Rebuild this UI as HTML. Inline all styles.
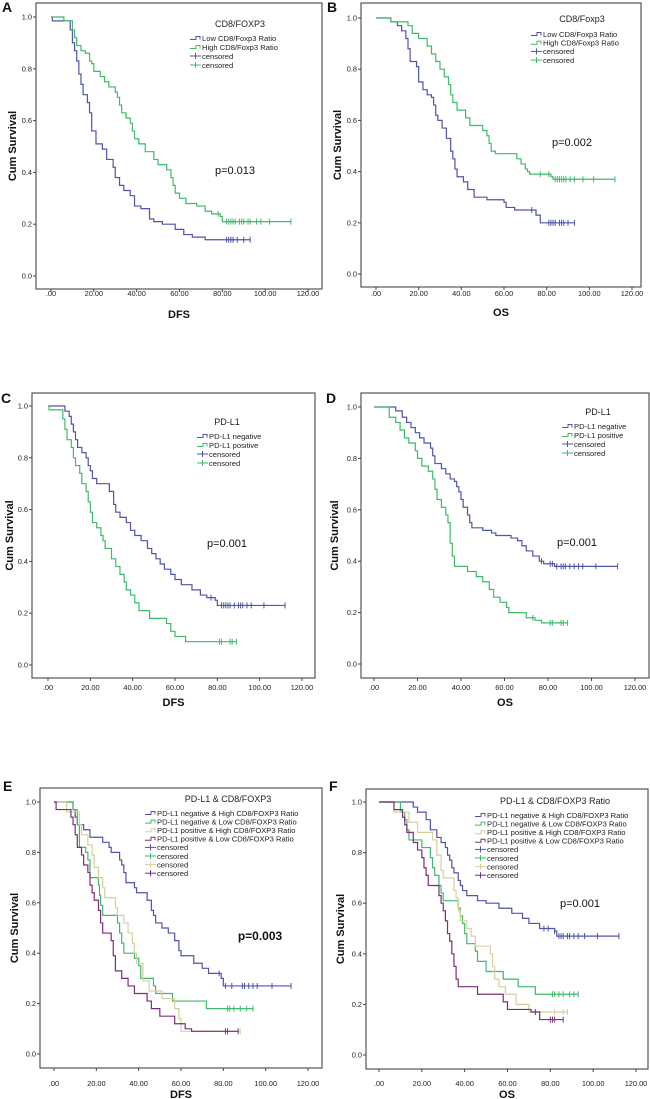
<!DOCTYPE html>
<html><head><meta charset="utf-8"><style>
html,body{margin:0;padding:0;background:#fff;}
svg{display:block;font-family:"Liberation Sans",sans-serif;}
</style></head><body>
<svg id="fig" width="650" height="1099" viewBox="0 0 650 1099" xmlns="http://www.w3.org/2000/svg"></svg>
<script>
const BLUE="#4f54a8",GREEN="#3fba6a",BEIGE="#d6cf9c",PURPLE="#7b2e78";
const xTicks=[0,20,40,60,80,100,120];
const xTickLabels=[".00","20.00","40.00","60.00","80.00","100.00","120.00"];
const yTicks=[0,0.2,0.4,0.6,0.8,1.0];
const yTickLabels=["0.0","0.2","0.4","0.6","0.8","1.0"];

// Panel A
const aLowT=[0.6,9,10,11,12,13,14,15,17,18,19,21,24,26,29,30,32,34,37,39,42,46,48,52,58,62,66,72];
const aLowS=[0.985,0.95,0.90,0.87,0.83,0.78,0.74,0.70,0.67,0.63,0.56,0.51,0.49,0.45,0.42,0.38,0.35,0.33,0.31,0.27,0.26,0.22,0.21,0.20,0.18,0.16,0.15,0.14];
const aLowC=[82,83,84,85,87,90,93];
const aHighT=[6,10,11,12,14,16,18,19,20,23,25,27,30,31,32,33,35,37,38,39,41,44,48,50,54,56,57,58,60,63,68,72,75,79,80];
const aHighS=[0.985,0.95,0.92,0.89,0.87,0.86,0.83,0.82,0.79,0.77,0.75,0.73,0.71,0.69,0.66,0.63,0.61,0.59,0.56,0.53,0.51,0.48,0.45,0.43,0.41,0.38,0.35,0.32,0.30,0.28,0.27,0.25,0.24,0.23,0.21];
const aHighC=[78,82,83,84,85,86,88,89,90,92,93,96,98,102,112];
// Panel B
const bLowT=[7,10,12,14,15,16,19,20,22,24,26,27,28,29,31,33,35,36,37,38,41,43,46,52,60,61,65,75,77];
const bLowS=[0.985,0.97,0.95,0.92,0.88,0.83,0.81,0.75,0.72,0.70,0.69,0.66,0.62,0.60,0.57,0.53,0.48,0.45,0.41,0.38,0.36,0.33,0.30,0.29,0.28,0.26,0.25,0.23,0.20];
const bLowC=[73,81,82,83,84,86,87,88,90,93];
const bHighT=[7,15,17,20,24,26,28,30,32,34,35,36,38,42,44,50,52,53,54,56,66,68,70,71,72,82,83];
const bHighS=[0.985,0.97,0.94,0.92,0.89,0.86,0.83,0.80,0.77,0.74,0.70,0.67,0.64,0.61,0.58,0.56,0.54,0.51,0.48,0.47,0.45,0.43,0.41,0.40,0.39,0.38,0.37];
const bHighC=[77,81,84,85,86,87,88,89,91,93,97,102,112];
// Panel C
const cNegT=[8,10,11,12,13,14,16,18,19,20,21,23,29,31,32,34,37,39,41,44,47,49,51,53,55,58,60,63,68,72,75,79,80];
const cNegS=[0.98,0.96,0.93,0.90,0.87,0.84,0.82,0.80,0.77,0.75,0.72,0.70,0.67,0.62,0.59,0.57,0.55,0.52,0.50,0.48,0.45,0.43,0.41,0.39,0.37,0.35,0.33,0.31,0.29,0.27,0.26,0.25,0.23];
const cNegC=[77,82,83,84,85,86,88,90,91,92,94,96,102,112];
const cPosT=[0.5,7,8,9,11,12,13,15,16,18,19,20,21,23,25,26,27,30,32,34,36,37,39,41,43,48,56,58,60,65];
const cPosS=[0.985,0.95,0.91,0.87,0.84,0.80,0.77,0.74,0.70,0.67,0.63,0.59,0.55,0.53,0.50,0.48,0.45,0.41,0.38,0.35,0.32,0.29,0.27,0.24,0.21,0.18,0.16,0.13,0.11,0.09];
const cPosC=[81,82,86,87,89];
// Panel D
const dNegT=[10,13,15,17,19,21,23,26,27,28,31,33,35,37,38,39,40,41,43,44,45,50,54,56,63,66,68,70,73,76,78,83];
const dNegS=[0.985,0.96,0.94,0.92,0.90,0.88,0.86,0.84,0.81,0.78,0.76,0.74,0.72,0.71,0.69,0.67,0.64,0.61,0.58,0.55,0.53,0.52,0.51,0.50,0.49,0.48,0.46,0.44,0.42,0.40,0.39,0.38];
const dNegC=[77,81,82,84,86,87,88,90,92,94,96,102,112];
const dPosT=[7,10,12,14,16,19,20,22,25,27,28,29,31,33,34,35,36,37,43,47,50,53,55,58,61,62,70,74,77];
const dPosS=[0.96,0.94,0.91,0.88,0.86,0.83,0.80,0.77,0.75,0.72,0.68,0.64,0.61,0.58,0.55,0.47,0.42,0.38,0.36,0.34,0.32,0.29,0.26,0.24,0.22,0.20,0.18,0.17,0.16];
const dPosC=[73,81,82,86,87,89];
// Panel E
const eNHT=[9,10,11,14,17,23,26,27,31,32,33,34,38,39,44,46,47,48,51,54,57,59,60,66,70,73,79,80];
const eNHS=[0.97,0.94,0.91,0.89,0.86,0.84,0.82,0.80,0.77,0.75,0.72,0.68,0.66,0.64,0.61,0.57,0.55,0.52,0.50,0.48,0.45,0.41,0.39,0.36,0.34,0.32,0.30,0.27];
const eNHC=[78,81,84,89,90,92,94,96,103,112];
const eNLT=[9,11,12,15,16,17,21,21.5,22,23,30,31,32,33,38,40,41,47,48,56,72];
const eNLS=[0.97,0.91,0.82,0.80,0.77,0.70,0.67,0.63,0.59,0.55,0.52,0.48,0.44,0.40,0.38,0.35,0.30,0.27,0.24,0.21,0.18];
const eNLC=[82,83,85,88,91,94];
const ePHT=[6,12,13,16,18,19,21,23,24,29,30,33,35,37,38,39,42,45,51,57,59,60];
const ePHS=[0.96,0.91,0.87,0.83,0.79,0.74,0.70,0.66,0.62,0.58,0.55,0.52,0.48,0.44,0.40,0.36,0.29,0.25,0.22,0.18,0.14,0.09];
const ePHC=[88];
const ePLT=[1,8,9,10,11,13,14,16,17,18,19,21,22,23,27,28,29,32,35,38,44,46,50,57,62,65];
const ePLS=[0.97,0.94,0.91,0.87,0.82,0.79,0.75,0.72,0.67,0.64,0.61,0.57,0.52,0.48,0.45,0.39,0.33,0.30,0.27,0.24,0.21,0.18,0.15,0.12,0.10,0.09];
const ePLC=[81,82,87];
// Panel F
const fNHT=[16,18,22,24,27,29,31,32,33,34,35,37,38,39,41,46,50,56,62,67,70,75,82,83];
const fNHS=[0.98,0.96,0.93,0.89,0.86,0.84,0.82,0.79,0.77,0.74,0.72,0.69,0.67,0.65,0.63,0.61,0.60,0.58,0.56,0.54,0.52,0.50,0.49,0.47];
const fNHC=[77,79,82,84,85,86,88,89,91,93,96,102,112];
const fNLT=[10,12,13,14,20,24,25,26,28,29,30,37,38,39,40,41,45,46,50,58,65,73];
const fNLS=[0.96,0.93,0.89,0.85,0.82,0.78,0.74,0.71,0.67,0.64,0.61,0.58,0.55,0.52,0.48,0.44,0.41,0.37,0.33,0.30,0.27,0.24];
const fNLC=[81,82,84,86,89,91,93];
const fPHT=[7,14,18,25,27,29,30,35,36,37,38,41,43,45,52,53,54,56,59,64,70];
const fPHS=[0.96,0.92,0.88,0.85,0.79,0.73,0.70,0.65,0.62,0.57,0.53,0.50,0.47,0.43,0.40,0.35,0.30,0.27,0.24,0.20,0.17];
const fPHC=[82,86,88];
const fPLT=[7,11,12,13,16,18,20,21,22,23,28,29,30,31,32,33,34,35,36,37,46,58,60,71,75];
const fPLS=[0.97,0.94,0.91,0.88,0.84,0.81,0.78,0.74,0.71,0.67,0.63,0.60,0.57,0.53,0.48,0.45,0.40,0.35,0.30,0.27,0.24,0.21,0.18,0.17,0.14];
const fPLC=[73,80,81,82,86];

const NS="http://www.w3.org/2000/svg";
const svg=document.getElementById('fig');
function el(tag,attrs,parent,text){const e=document.createElementNS(NS,tag);for(const k in attrs)e.setAttribute(k,attrs[k]);if(text!==undefined)e.textContent=text;(parent||svg).appendChild(e);return e;}

const panels=[
 {id:"a",letter:"A",lx:2,ly:12,frame:[36,3,322,289],x0:51,x120:308,y0:276,y1:17,tickY:296,xt:"DFS",xtY:318,ytX:12,
  title:"CD8/FOXP3",tx:240,ty:27,legX:190,legY:38,legStep:9,p:"p=0.013",px:235,py:174,pb:false,
  series:[{n:"Low CD8/Foxp3 Ratio",c:BLUE,t:aLowT,s:aLowS,cz:aLowC},{n:"High CD8/Foxp3 Ratio",c:GREEN,t:aHighT,s:aHighS,cz:aHighC}]},
 {id:"b",letter:"B",lx:327,ly:12,frame:[361,3,641,287],x0:376,x120:632,y0:274,y1:18,tickY:296,xt:"OS",xtY:316,ytX:337,
  title:"CD8/Foxp3",tx:582,ty:22,legX:531,legY:34,legStep:8.7,p:"p=0.002",px:572,py:146,pb:false,
  series:[{n:"Low CD8/Foxp3 Ratio",c:BLUE,t:bLowT,s:bLowS,cz:bLowC},{n:"High CD8/Foxp3 Ratio",c:GREEN,t:bHighT,s:bHighS,cz:bHighC}]},
 {id:"c",letter:"C",lx:1,ly:403,frame:[32,393,315,678],x0:48,x120:302,y0:665,y1:406,tickY:690,xt:"DFS",xtY:706,ytX:9,
  title:"PD-L1",tx:227,ty:425,legX:197,legY:436,legStep:9,p:"p=0.001",px:227,py:547,pb:false,
  series:[{n:"PD-L1 negative",c:BLUE,t:cNegT,s:cNegS,cz:cNegC},{n:"PD-L1 positive",c:GREEN,t:cPosT,s:cPosS,cz:cPosC}]},
 {id:"d",letter:"D",lx:326,ly:403,frame:[361,393,649,678],x0:374,x120:635,y0:664,y1:407,tickY:690,xt:"OS",xtY:706,ytX:334,
  title:"PD-L1",tx:598,ty:415,legX:562,legY:426,legStep:9,p:"p=0.001",px:577,py:546,pb:false,
  series:[{n:"PD-L1 negative",c:BLUE,t:dNegT,s:dNegS,cz:dNegC},{n:"PD-L1 positive",c:GREEN,t:dPosT,s:dPosS,cz:dPosC}]},
 {id:"e",letter:"E",lx:3,ly:791,frame:[40,788,322,1068],x0:54,x120:308,y0:1054,y1:802,tickY:1086,xt:"DFS",xtY:1098,ytX:14,
  title:"PD-L1 & CD8/FOXP3",tx:228,ty:802,legX:145,legY:813,legStep:8.6,p:"p=0.003",px:260,py:940,pb:true,
  series:[{n:"PD-L1 negative & High CD8/FOXP3 Ratio",c:BLUE,t:eNHT,s:eNHS,cz:eNHC},{n:"PD-L1 negative & Low CD8/FOXP3 Ratio",c:GREEN,t:eNLT,s:eNLS,cz:eNLC},{n:"PD-L1 positive & High CD8/FOXP3 Ratio",c:BEIGE,t:ePHT,s:ePHS,cz:ePHC},{n:"PD-L1 positive & Low CD8/FOXP3 Ratio",c:PURPLE,t:ePLT,s:ePLS,cz:ePLC}]},
 {id:"f",letter:"F",lx:329,ly:791,frame:[366,789,648,1069],x0:379,x120:636,y0:1055,y1:802,tickY:1086,xt:"OS",xtY:1098,ytX:340,
  title:"PD-L1 & CD8/FOXP3 Ratio",tx:555,ty:804,legX:475,legY:815,legStep:8.6,p:"p=0.001",px:580,py:907,pb:false,
  series:[{n:"PD-L1 negative & High CD8/FOXP3 Ratio",c:BLUE,t:fNHT,s:fNHS,cz:fNHC},{n:"PD-L1 negative & Low CD8/FOXP3 Ratio",c:GREEN,t:fNLT,s:fNLS,cz:fNLC},{n:"PD-L1 positive & High CD8/FOXP3 Ratio",c:BEIGE,t:fPHT,s:fPHS,cz:fPHC},{n:"PD-L1 positive & Low CD8/FOXP3 Ratio",c:PURPLE,t:fPLT,s:fPLS,cz:fPLC}]}
];

function survAt(t,s,x){let v=1;for(let i=0;i<t.length;i++){if(t[i]<=x)v=s[i];}return v;}

panels.forEach(P=>{
  const g=el('g',{});
  
  
  const X=v=>P.x0+(P.x120-P.x0)*v/120;
  const Y=v=>P.y0-(P.y0-P.y1)*v;
  const [fl,ft,fr,fb]=P.frame;
  const lt=el('text',{x:P.lx,y:P.ly,'font-size':14,'font-weight':'bold',fill:'#111'},g,P.letter);
  
  
  const fr_=el('rect',{x:fl,y:ft,width:fr-fl,height:fb-ft,fill:'none',stroke:'#555','stroke-width':1.2},g);
  
  
  yTicks.forEach((v,i)=>{
    el('line',{x1:fl-3,x2:fl,y1:Y(v),y2:Y(v),stroke:'#444','stroke-width':1},g);
    const t=el('text',{x:fl-4,y:Y(v)+2.5,'font-size':7.4,'text-anchor':'end',fill:'#222'},g,yTickLabels[i]);
    
    
  });
  xTicks.forEach((v,i)=>{
    el('line',{x1:X(v),x2:X(v),y1:fb,y2:fb+3,stroke:'#444','stroke-width':1},g);
    const t=el('text',{x:X(v),y:P.tickY,'font-size':7.4,'text-anchor':'middle',fill:'#222'},g,xTickLabels[i]);
    
    
  });
  const xt=el('text',{x:(fl+fr)/2,y:P.xtY,'font-size':11,'font-weight':'bold','text-anchor':'middle',fill:'#111'},g,P.xt);
  
  
  const yc=(ft+fb)/2;
  const yt=el('text',{x:P.ytX,y:yc,'font-size':11,'font-weight':'bold','text-anchor':'middle',fill:'#111',transform:`rotate(-90 ${P.ytX} ${yc})`,dy:4},g,'Cum Survival');
  
  
  P.series.forEach((S,si)=>{
    let d=`M${X(0)},${Y(1)}`;
    S.t.forEach((tt,i)=>{d+=` H${X(tt)} V${Y(S.s[i])}`;});
    const last=Math.max(S.t[S.t.length-1],...S.cz);
    d+=` H${X(last)}`;
    const p=el('path',{d:d,fill:'none',stroke:S.c,'stroke-width':1.2},g);
    
    
    S.cz.forEach(ct=>{
      const v=survAt(S.t,S.s,ct);
      const m=el('line',{x1:X(ct),x2:X(ct),y1:Y(v)-3,y2:Y(v)+3,stroke:S.c,'stroke-width':1},g);
      
      
    });
  });
  const tt=el('text',{x:P.tx,y:P.ty,'font-size':9,'text-anchor':'middle',fill:'#222'},g,P.title);
  
  
  const items=P.series.map(s=>({n:s.n,c:s.c,k:'line'})).concat(P.series.map(s=>({n:'censored',c:s.c,k:'cens'})));
  items.forEach((it,i)=>{
    const y=P.legY+i*P.legStep;
    const lg=el('g',{},g);
    
    
    if(it.k==='line'){
      el('path',{d:`M${P.legX},${y+1.5} H${P.legX+6} V${y-1.5} H${P.legX+10} V${y+1.5}`,fill:'none',stroke:it.c,'stroke-width':1},lg);
    }else{
      el('line',{x1:P.legX,x2:P.legX+11,y1:y,y2:y,stroke:it.c,'stroke-width':1},lg);
      el('line',{x1:P.legX+5.5,x2:P.legX+5.5,y1:y-3,y2:y+3,stroke:it.c,'stroke-width':1},lg);
    }
    el('text',{x:P.legX+12,y:y+2.8,'font-size':7.6,fill:'#222'},lg,it.n);
  });
  const pt=el('text',{x:P.px,y:P.py,'font-size':P.pb?12:11,'font-weight':P.pb?'bold':'normal','text-anchor':'middle',fill:'#111'},g,P.p);
  
  
});
</script>
</body></html>
